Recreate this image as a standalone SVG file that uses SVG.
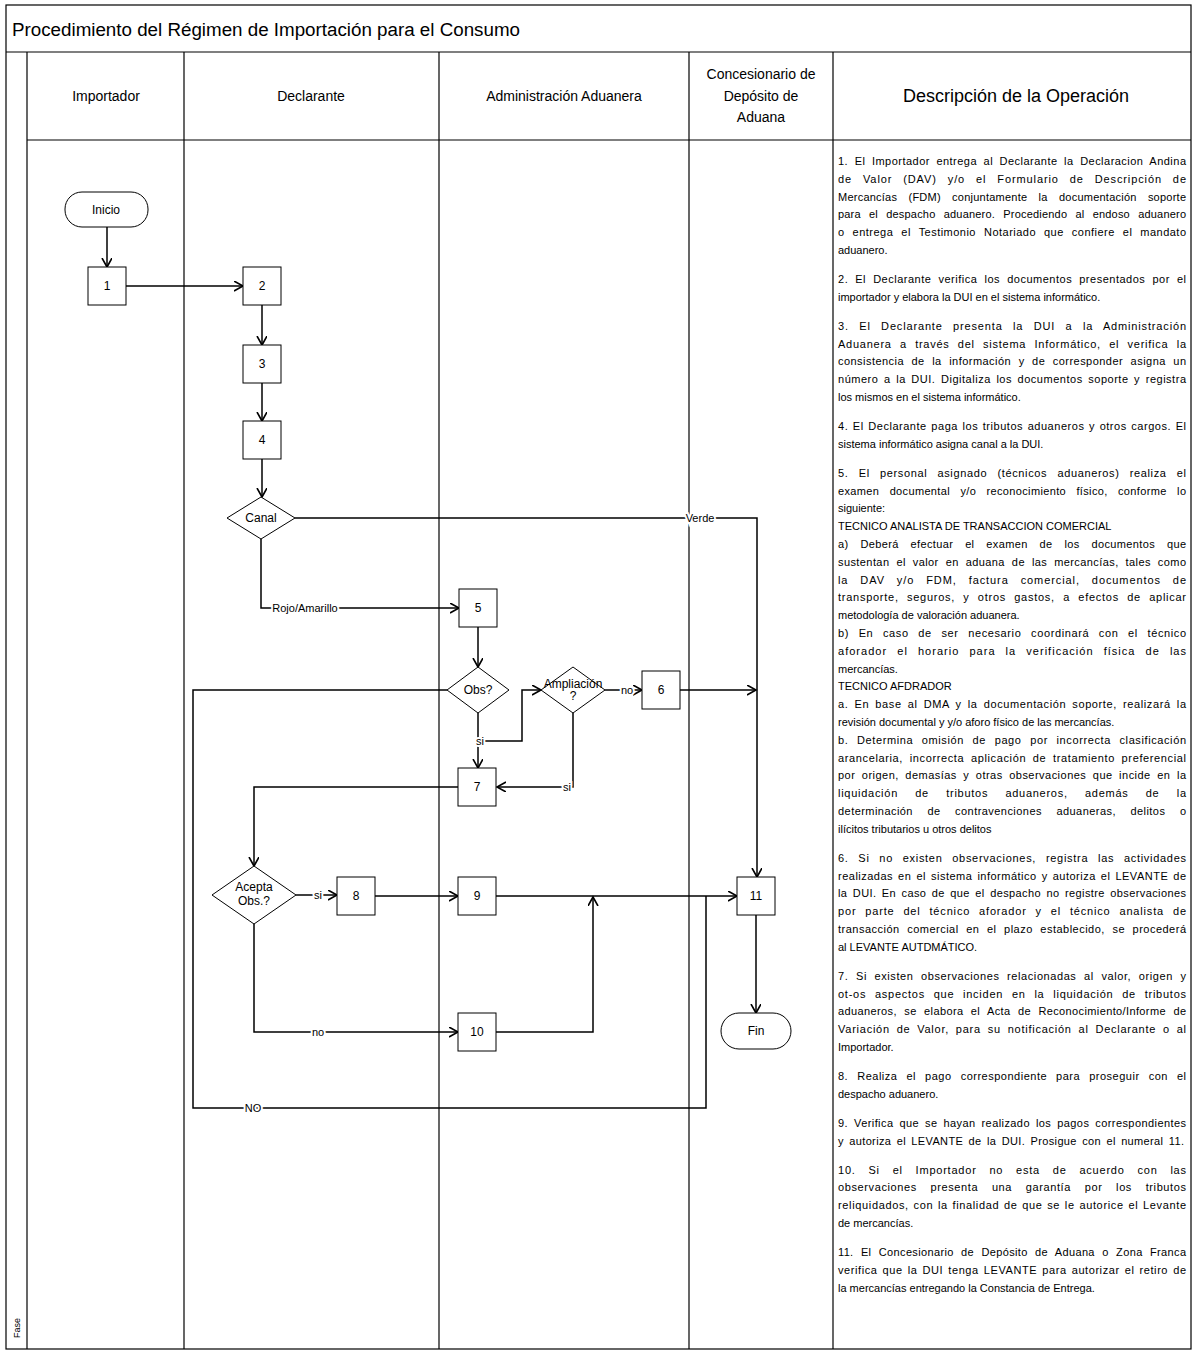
<svg xmlns="http://www.w3.org/2000/svg" width="1193" height="1350" viewBox="0 0 1193 1350">
<defs>
<marker id="arr" markerUnits="userSpaceOnUse" markerWidth="12" markerHeight="12" refX="9" refY="5" orient="auto">
<path d="M0,0 L9,5 L0,10" fill="none" stroke="#000" stroke-width="1.6"/>
</marker>
</defs>
<style>
.frame{fill:none;stroke:#000;stroke-width:1.2}
.lane{stroke:#000;stroke-width:1.2}
.node{fill:#fff;stroke:#000;stroke-width:1}
.t{font-family:"Liberation Sans",Arial,sans-serif;fill:#000}
.nt{font-family:"Liberation Sans",Arial,sans-serif;font-size:12px;text-anchor:middle;fill:#000}
.hd{font-family:"Liberation Sans",Arial,sans-serif;font-size:14px;text-anchor:middle;fill:#000}
.c{fill:none;stroke:#000;stroke-width:1.5}
.ca{fill:none;stroke:#000;stroke-width:1.5;marker-end:url(#arr)}
.lbl{font-family:"Liberation Sans",Arial,sans-serif;font-size:11px;text-anchor:middle;fill:#000;stroke:#fff;stroke-width:4;paint-order:stroke}
.d{font-family:"Liberation Sans",Arial,sans-serif;font-size:11px;fill:#000}
</style>
<rect x="0" y="0" width="1193" height="1350" fill="#fff"/>
<g id="frame">
<rect class="frame" x="6" y="5" width="1185" height="1344"/>
<line class="lane" x1="6" y1="52" x2="1191" y2="52"/>
<line class="lane" x1="27" y1="140" x2="1191" y2="140"/>
<line class="lane" x1="27" y1="52" x2="27" y2="1349"/>
<line class="lane" x1="184" y1="52" x2="184" y2="1349"/>
<line class="lane" x1="439" y1="52" x2="439" y2="1349"/>
<line class="lane" x1="689" y1="52" x2="689" y2="1349"/>
<line class="lane" x1="833" y1="52" x2="833" y2="1349"/>
<text class="t" x="12" y="36" font-size="18" textLength="508" lengthAdjust="spacingAndGlyphs">Procedimiento del Régimen de Importación para el Consumo</text>
<text class="hd" x="106" y="101">Importador</text>
<text class="hd" x="311" y="101">Declarante</text>
<text class="hd" x="564" y="101">Administración Aduanera</text>
<text class="hd" x="761" y="79">Concesionario de</text>
<text class="hd" x="761" y="101">Depósito de</text>
<text class="hd" x="761" y="122">Aduana</text>
<text class="t" x="1016" y="102" font-size="18" text-anchor="middle">Descripción de la Operación</text>
<text class="t" font-size="9" transform="translate(20,1338) rotate(-90)">Fase</text>
</g>
<g id="connectors">
<path class="ca" d="M107,227 V267"/>
<path class="ca" d="M126,286 H243"/>
<path class="ca" d="M262,305 V345"/>
<path class="ca" d="M262,383 V421"/>
<path class="ca" d="M262,459 V497"/>
<path class="ca" d="M295,518 H757 V877"/>
<path class="ca" d="M261,539 V608 H459"/>
<path class="ca" d="M478,627 V667"/>
<path class="c" d="M447,690 H193 V1108 H706 V896"/>
<path class="ca" d="M478,713 V768"/>
<path class="ca" d="M480,741 H522 V690 H541"/>
<path class="ca" d="M605,690 H642"/>
<path class="ca" d="M573,713 V787 H497"/>
<path class="ca" d="M680,690 H756"/>
<path class="ca" d="M458,787 H254 V866"/>
<path class="ca" d="M296,895 H337"/>
<path class="ca" d="M375,896 H458"/>
<path class="ca" d="M496,896 H737"/>
<path class="ca" d="M254,924 V1032 H458"/>
<path class="ca" d="M496,1032 H593 V897"/>
<path class="ca" d="M756,915 V1013"/>
<text class="lbl" x="700" y="522">Verde</text>
<text class="lbl" x="305" y="612">Rojo/Amarillo</text>
<text class="lbl" x="480" y="745">si</text>
<text class="lbl" x="627" y="694">no</text>
<text class="lbl" x="567" y="791">si</text>
<text class="lbl" x="318" y="899">si</text>
<text class="lbl" x="318" y="1036">no</text>
<text class="lbl" x="253" y="1112">NO</text>
</g>
<g id="inicio"><rect class="node" x="65" y="192" width="83" height="35" rx="17"/><text class="nt" x="106" y="214" font-size="11">Inicio</text></g>
<g id="n1"><rect class="node" x="88" y="267" width="38" height="38"/><text class="nt" x="107" y="290">1</text></g>
<g id="n2"><rect class="node" x="243" y="267" width="38" height="38"/><text class="nt" x="262" y="290">2</text></g>
<g id="n3"><rect class="node" x="243" y="345" width="38" height="38"/><text class="nt" x="262" y="368">3</text></g>
<g id="n4"><rect class="node" x="243" y="421" width="38" height="38"/><text class="nt" x="262" y="444">4</text></g>
<g id="canal"><polygon class="node" points="261,497 295,518 261,539 227,518"/><text class="nt" x="261" y="522">Canal</text></g>
<g id="n5"><rect class="node" x="459" y="589" width="38" height="38"/><text class="nt" x="478" y="612">5</text></g>
<g id="obs"><polygon class="node" points="478,667 509,690 478,713 447,690"/><text class="nt" x="478" y="694">Obs?</text></g>
<g id="ampliacion"><polygon class="node" points="573,667 605,690 573,713 541,690"/><text class="nt" x="573" y="688" font-size="7.5">Ampliación</text><text class="nt" x="573" y="700" font-size="8">?</text></g>
<g id="n6"><rect class="node" x="642" y="671" width="38" height="38"/><text class="nt" x="661" y="694">6</text></g>
<g id="n7"><rect class="node" x="458" y="768" width="38" height="38"/><text class="nt" x="477" y="791">7</text></g>
<g id="acepta"><polygon class="node" points="254,866 296,895 254,924 212,895"/><text class="nt" x="254" y="891">Acepta</text><text class="nt" x="254" y="905">Obs.?</text></g>
<g id="n8"><rect class="node" x="337" y="877" width="38" height="38"/><text class="nt" x="356" y="900">8</text></g>
<g id="n9"><rect class="node" x="458" y="877" width="38" height="38"/><text class="nt" x="477" y="900">9</text></g>
<g id="n10"><rect class="node" x="458" y="1013" width="38" height="38"/><text class="nt" x="477" y="1036">10</text></g>
<g id="n11"><rect class="node" x="737" y="877" width="38" height="38"/><text class="nt" x="756" y="900">11</text></g>
<g id="fin"><rect class="node" x="721" y="1013" width="70" height="36" rx="18"/><text class="nt" x="756" y="1035" font-size="11">Fin</text></g>
<g id="descripcion">
<text class="d" x="838" y="165" textLength="348" word-spacing="3">1. El Importador entrega al Declarante la Declaracion Andina</text>
<text class="d" x="838" y="182.8" textLength="348" word-spacing="7">de Valor (DAV) y/o el Formulario de Descripción de</text>
<text class="d" x="838" y="200.6" textLength="348" word-spacing="8">Mercancías (FDM) conjuntamente la documentación soporte</text>
<text class="d" x="838" y="218.4" textLength="348" word-spacing="5">para el despacho aduanero. Procediendo al endoso aduanero</text>
<text class="d" x="838" y="236.2" textLength="348" word-spacing="4.5">o entrega el Testimonio Notariado que confiere el mandato</text>
<text class="d" x="838" y="254">aduanero.</text>
<text class="d" x="838" y="283" textLength="348" word-spacing="3.5">2. El Declarante verifica los documentos presentados por el</text>
<text class="d" x="838" y="300.8">importador y elabora la DUI en el sistema informático.</text>
<text class="d" x="838" y="329.8" textLength="348" word-spacing="6.5">3. El Declarante presenta la DUI a la Administración</text>
<text class="d" x="838" y="347.6" textLength="348" word-spacing="4.5">Aduanera a través del sistema Informático, el verifica la</text>
<text class="d" x="838" y="365.4" textLength="348" word-spacing="4">consistencia de la información y de corresponder asigna un</text>
<text class="d" x="838" y="383.2" textLength="348" word-spacing="2">número a la DUI. Digitaliza los documentos soporte y registra</text>
<text class="d" x="838" y="401">los mismos en el sistema informático.</text>
<text class="d" x="838" y="430" textLength="348" word-spacing="1">4. El Declarante paga los tributos aduaneros y otros cargos. El</text>
<text class="d" x="838" y="447.8">sistema informático asigna canal a la DUI.</text>
<text class="d" x="838" y="476.8" textLength="348" word-spacing="6.5">5. El personal asignado (técnicos aduaneros) realiza el</text>
<text class="d" x="838" y="494.6" textLength="348" word-spacing="7">examen documental y/o reconocimiento físico, conforme lo</text>
<text class="d" x="838" y="512.4">siguiente:</text>
<text class="d" x="838" y="530.2">TECNICO ANALISTA DE TRANSACCION COMERCIAL</text>
<text class="d" x="838" y="548" textLength="348" word-spacing="8.5">a) Deberá efectuar el examen de los documentos que</text>
<text class="d" x="838" y="565.8" textLength="348" word-spacing="3.5">sustentan el valor en aduana de las mercancías, tales como</text>
<text class="d" x="838" y="583.6" textLength="348" word-spacing="8">la DAV y/o FDM,  factura comercial, documentos de</text>
<text class="d" x="838" y="601.4" textLength="348" word-spacing="4.5">transporte, seguros, y otros gastos, a efectos de aplicar</text>
<text class="d" x="838" y="619.2">metodología de valoración aduanera.</text>
<text class="d" x="838" y="637" textLength="348" word-spacing="6">b) En caso de ser necesario coordinará con el técnico</text>
<text class="d" x="838" y="654.8" textLength="348" word-spacing="6">aforador el horario para la verificación física de las</text>
<text class="d" x="838" y="672.6">mercancías.</text>
<text class="d" x="838" y="690.4">TECNICO AFDRADOR</text>
<text class="d" x="838" y="708.2" textLength="348" word-spacing="2.5">a. En base al DMA y la documentación  soporte, realizará la</text>
<text class="d" x="838" y="726">revisión documental y y/o aforo físico de las mercancías.</text>
<text class="d" x="838" y="743.8" textLength="348" word-spacing="5">b. Determina omisión de pago por incorrecta clasificación</text>
<text class="d" x="838" y="761.6" textLength="348" word-spacing="3">arancelaria, incorrecta aplicación de tratamiento preferencial</text>
<text class="d" x="838" y="779.4" textLength="348" word-spacing="3">por origen, demasías y otras observaciones que incide en la</text>
<text class="d" x="838" y="797.2" textLength="348" word-spacing="13.5">liquidación de tributos aduaneros, además de la</text>
<text class="d" x="838" y="815" textLength="348" word-spacing="11">determinación de contravenciones aduaneras, delitos o</text>
<text class="d" x="838" y="832.8">ilícitos tributarios u otros delitos</text>
<text class="d" x="838" y="861.8" textLength="348" word-spacing="6">6. Si no existen observaciones, registra las actividades</text>
<text class="d" x="838" y="879.6" textLength="348" word-spacing="1.5">realizadas en el sistema informático y autoriza el LEVANTE de</text>
<text class="d" x="838" y="897.4" textLength="348" word-spacing="2">la DUI. En caso de que el despacho no registre observaciones</text>
<text class="d" x="838" y="915.2" textLength="348" word-spacing="5">por parte del técnico aforador y el técnico analista de</text>
<text class="d" x="838" y="933" textLength="348" word-spacing="4">transacción comercial en el plazo establecido, se procederá</text>
<text class="d" x="838" y="950.8">al LEVANTE AUTDMÁTICO.</text>
<text class="d" x="838" y="979.8" textLength="348" word-spacing="4">7. Si existen observaciones relacionadas al valor, origen y</text>
<text class="d" x="838" y="997.6" textLength="348" word-spacing="5">ot-os aspectos que inciden en la liquidación de tributos</text>
<text class="d" x="838" y="1015.4" textLength="348" word-spacing="4">aduaneros, se elabora el Acta de Reconocimiento/Informe de</text>
<text class="d" x="838" y="1033.2" textLength="348" word-spacing="3">Variación de Valor, para su notificación al Declarante o al</text>
<text class="d" x="838" y="1051">Importador.</text>
<text class="d" x="838" y="1080" textLength="348" word-spacing="5.5">8. Realiza el pago correspondiente para proseguir con el</text>
<text class="d" x="838" y="1097.8">despacho aduanero.</text>
<text class="d" x="838" y="1126.8" textLength="348" word-spacing="2.5">9. Verifica que se hayan realizado los pagos correspondientes</text>
<text class="d" x="838" y="1144.6" textLength="346" word-spacing="2">y autoriza el LEVANTE de la DUI. Prosigue con el numeral 11.</text>
<text class="d" x="838" y="1173.6" textLength="348" word-spacing="9">10. Si el Importador no esta de acuerdo con las</text>
<text class="d" x="838" y="1191.4" textLength="348" word-spacing="10">observaciones presenta una garantía por los tributos</text>
<text class="d" x="838" y="1209.2" textLength="348" word-spacing="1">reliquidados, con la finalidad de que se le autorice el Levante</text>
<text class="d" x="838" y="1227">de mercancías.</text>
<text class="d" x="838" y="1256" textLength="348" word-spacing="4">11. El Concesionario de Depósito de Aduana o Zona Franca</text>
<text class="d" x="838" y="1273.8" textLength="348" word-spacing="1.5">verifica que la DUI tenga LEVANTE para autorizar el retiro de</text>
<text class="d" x="838" y="1291.6">la mercancías entregando la Constancia de Entrega.</text>
</g>
</svg>
